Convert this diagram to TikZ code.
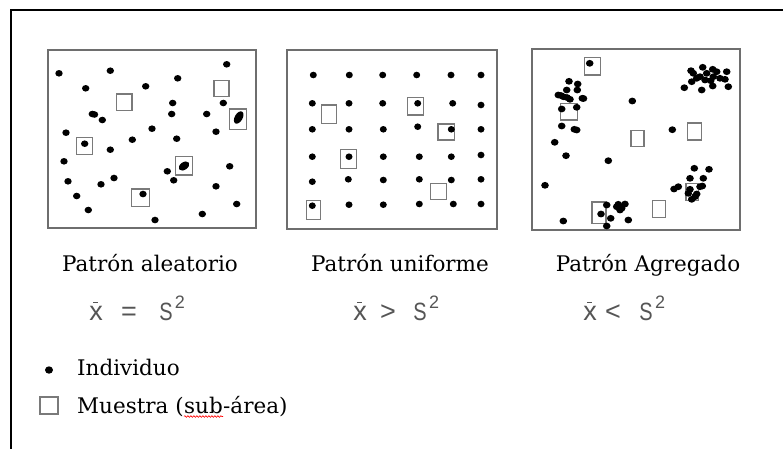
\documentclass[tikz,border=0pt]{standalone}
\usepackage{fontspec}
\setmainfont{DejaVu Serif}
\newfontfamily\legfont{DejaVu Serif}
\newfontfamily\formfont{Liberation Sans}
\usetikzlibrary{decorations.pathmorphing}
\definecolor{panelgray}{HTML}{6E6E6E}
\definecolor{samplegray}{HTML}{7A7A7A}
\definecolor{formcol}{HTML}{555555}
\newcommand\xbarsym{\makebox[0pt][l]{\hspace{0.14em}\raisebox{0.62em}{\rule{0.2em}{0.055em}}}x}
\newcommand\narrowS{\scalebox{0.8}[1]{S}}
\begin{document}
\begin{tikzpicture}[x=1pt,y=-1pt,
  panel/.style={draw=panelgray,line width=1.3pt},
  sample/.style={draw=samplegray,line width=1.4pt},
  lbl/.style={font=\legfont\fontsize{21.5}{26}\selectfont,anchor=base,inner sep=0pt},
  frm/.style={font=\formfont\fontsize{27}{29}\selectfont,text=formcol,anchor=base,inner sep=0pt},
  frmS/.style={font=\formfont\fontsize{25}{28}\selectfont,text=formcol,anchor=base,inner sep=0pt},
  frmsup/.style={font=\formfont\fontsize{18}{20}\selectfont,text=formcol,anchor=base,inner sep=0pt},
  leg/.style={font=\legfont\fontsize{21.5}{24}\selectfont,anchor=base west,inner sep=0pt},
  ind/.style={fill=black}]
\useasboundingbox (0,0) rectangle (783,448);
\fill[white] (0,0) rectangle (783,448);
\draw[line width=2pt] (11,449) -- (11,10) -- (784,10);

% panels
\draw[panel] (48,50) rectangle (256,228);
\draw[panel] (287,50) rectangle (497,229);
\draw[panel] (532,49) rectangle (740,230);

% sample boxes panel 1
\draw[sample] (116.3,94) rectangle (132,110.3);
\draw[sample] (214,80.3) rectangle (229,96.7);
\draw[sample] (229.3,109) rectangle (246.3,129.3);
\draw[sample] (76.3,137.7) rectangle (92.3,154.7);
\draw[sample] (175.7,156.3) rectangle (192.7,175);
\draw[sample] (131.3,189) rectangle (149.3,206.3);
% sample boxes panel 2
\draw[sample] (321.7,105) rectangle (336.7,123.3);
\draw[sample] (407.7,97.3) rectangle (423.7,115);
\draw[sample] (438,124) rectangle (454.3,140);
\draw[sample] (340.3,149.7) rectangle (356.3,168.7);
\draw[sample] (430.7,183.7) rectangle (446.7,199.3);
\draw[sample] (306.3,200.3) rectangle (320.3,219.3);
% sample boxes panel 3
\draw[sample] (584.3,57.3) rectangle (600.7,75);
\draw[sample] (560.7,103.3) rectangle (577.3,120);
\draw[sample] (631,130.7) rectangle (644,146.7);
\draw[sample] (687.7,123) rectangle (701.3,140);
\draw[sample] (686,183.3) rectangle (698.3,200.7);
\draw[sample] (652.7,200.7) rectangle (665.7,217.7);
\draw[sample] (592,202) rectangle (606,223.3);

% individuals panel 1
\foreach \p in {(59,73.3),(110.3,70.7),(226.7,64.3),(177.7,78.3),(85.7,88.3),(145.7,86.3),
  (172.7,103),(223.3,103),(92.3,114),(94.5,114.5),(102.3,120),(171.7,114),(206.7,114),
  (66,132.7),(152,128.7),(216,131.7),(132.3,139.7),(176.7,138.7),(84.7,143.7),(110.3,149.7),
  (64,161.3),(167.3,171.3),(229.7,166.3),(68,181.3),(101,184.3),(114,178),(173.7,180.3),
  (216,186.3),(76.7,196),(143,194),(236.7,204),(88.3,210),(202.3,214),(155,220)}
  \fill[ind] \p ellipse [x radius=3.7, y radius=3.3];
\fill[ind,shift={(238.7,117.5)},rotate=60] (0,0) ellipse [x radius=6.8, y radius=3.9];
\fill[ind,shift={(184,166)},rotate=35] (0,0) ellipse [x radius=5.8, y radius=3.8];

% individuals panel 2 (grid)
\foreach \p in {(313.3,75),(349.3,75),(382.7,75),(416.7,75),(451,75),(481,75),
  (312.3,103.3),(349,103.3),(382.7,103.3),(417.7,103.3),(452.7,103.3),(481,105),
  (312.3,129.3),(349,129.3),(383.3,129.3),(417.7,126.7),(451.3,129.3),(481,129.3),
  (312.3,156.7),(349,156.7),(383.3,156.7),(419.3,156.7),(451.3,156.7),(481,155),
  (312.3,181.7),(348.3,179.3),(383.3,180),(419.3,179.3),(451.3,180),(481,179.3),
  (312.3,205.7),(349,204.7),(383.3,204.7),(419.3,204),(453.3,204),(481,204)}
  \fill[ind] \p ellipse [x radius=3.5, y radius=3.3];

% individuals panel 3 (aggregated)
\foreach \p in {(589.7,63.3),(632.3,101),(672.3,129.7),(554.7,142.3),(566,155.7),(608.3,160.7),
  (545,185.3),(563.3,221),
  (569,81.3),(577.7,84),(566.7,90),(577.3,90),(558.3,95),(561,95.5),(563.3,96.7),(567,97.5),(570,99.3),
  (582.3,98.3),(583.5,98.5),(561.7,109),(576.7,107.3),(561.7,126),(574.3,129.3),(576.7,130),
  (691,70.7),(702.7,67.3),(712.7,69.3),(706.7,73.3),(726.7,71.7),(700,76.7),(713.3,76.7),
  (720,78.3),(691.7,81.7),(705,80),(684.3,87.7),(701.7,90),(712.7,86),(725,79.3),(728.3,86.7),
  (693.3,73.3),(710.7,80.7),(716.7,71.7),(696.7,78.3),
  (694.3,168.3),(709,169.3),(690,178.3),(703.3,178.3),(674,189),(678.3,186.7),(690,189.3),
  (700,186.7),(688.3,193.3),(696.7,194),(691.7,199.3),(695,196.7),(702.3,186),
  (606.7,205),(618.3,204.3),(625,204),(620,210),(621.7,208.3),(601,214),(610.7,218.3),
  (628.3,220),(606.7,226),(616.7,206.7)}
  \fill[ind] \p ellipse [x radius=3.8, y radius=3.4];

% pattern labels
\node[lbl] (l1) at (150,271) {Patrón aleatorio};
\node[lbl] (l2) at (400,271) {Patrón uniforme};
\node[lbl] (l3) at (648,271) {Patrón Agregado};

% formulas
\node[frm] (x1) at (96,320) {\xbarsym};
\node[frm] (e1) at (129,320) {=};
\node[frmS] (s1) at (166,320) {\narrowS};
\node[frmsup] (t1) at (180,308) {2};
\node[frm] (x2) at (360,320) {\xbarsym};
\node[frm] (g2) at (388,320) {>};
\node[frmS] (s2) at (420,320) {\narrowS};
\node[frmsup] (t2) at (434,308) {2};
\node[frm] (x3) at (590,320) {\xbarsym};
\node[frm] (g3) at (613,320) {<};
\node[frmS] (s3) at (646,320) {\narrowS};
\node[frmsup] (t3) at (660,308) {2};

% legend
\fill[ind] (49,370) ellipse [x radius=4, y radius=3.7];
\node[leg] (li) at (77,375) {Individuo};
\draw[sample] (40,397) rectangle (58,414);
\node[leg] (m1) at (77,413) {Muestra (};
\node[leg] (m2) at (m1.base east) {sub};
\node[leg] (m3) at (m2.base east) {-área)};
\draw[red,line width=0.6pt,decorate,decoration={snake,amplitude=0.8pt,segment length=3pt}]
  ([yshift=-3.5pt]m2.base west) -- ([yshift=-3.5pt]m2.base east);
\end{tikzpicture}
\end{document}
